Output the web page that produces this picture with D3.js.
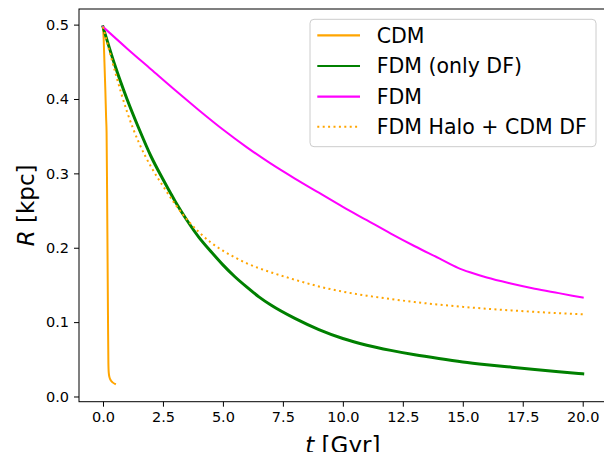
<!DOCTYPE html>
<html>
<head>
<meta charset="utf-8">
<script src="https://cdn.jsdelivr.net/npm/d3@7"></script>
<style>
  html, body { margin: 0; padding: 0; background: #fff; }
  svg { display: block; font-family: "DejaVu Sans", sans-serif; }
</style>
</head>
<body>
<svg id="chart" width="604" height="452"></svg>
<script>
// ---- data (t in Gyr, R in kpc) ----
const seriesNames = ["CDM", "FDM (only DF)", "FDM", "FDM Halo + CDM DF"];

const cdmT = [0, 0.03, 0.06, 0.10, 0.13, 0.15, 0.17, 0.19, 0.21, 0.225, 0.24, 0.27, 0.32, 0.40, 0.50];
const cdmR = [0.497, 0.48, 0.45, 0.41, 0.375, 0.355, 0.28, 0.19, 0.10, 0.045, 0.032, 0.026, 0.022, 0.019, 0.017];

const fdmDfT = [0, 0.5, 1, 1.5, 2, 2.5, 3, 3.5, 4, 4.5, 5, 5.5, 6, 6.5, 7, 8, 9, 10, 11, 12, 13, 14, 15, 16, 17, 18, 19, 20];
const fdmDfR = [0.497, 0.445, 0.400, 0.360, 0.323, 0.292, 0.263, 0.237, 0.214, 0.195, 0.177, 0.161, 0.147, 0.134, 0.123,
                0.105, 0.090, 0.078, 0.069, 0.062, 0.056, 0.051, 0.0465, 0.0428, 0.0395, 0.0363, 0.0333, 0.0305];

const fdmT = [0, 1, 2, 3, 4, 5, 6, 7, 8, 9, 10, 11, 12, 13, 14, 14.8, 15.3, 16, 17, 18, 19, 20];
const fdmR = [0.497, 0.468, 0.440, 0.412, 0.385, 0.359, 0.335, 0.313, 0.293, 0.274, 0.255, 0.237, 0.219, 0.202, 0.186,
              0.173, 0.167, 0.160, 0.152, 0.145, 0.139, 0.133];

const haloT = [0, 0.5, 1, 1.5, 2, 2.5, 3, 3.5, 4, 4.5, 5, 5.5, 6, 7, 8, 9, 10, 11, 12, 13, 14, 15, 16, 17, 18, 19, 20];
const haloR = [0.497, 0.437, 0.383, 0.341, 0.309, 0.283, 0.259, 0.238, 0.221, 0.207, 0.196, 0.187, 0.179, 0.167, 0.157,
               0.148, 0.141, 0.1355, 0.131, 0.127, 0.1235, 0.1205, 0.118, 0.1158, 0.1138, 0.112, 0.1106];

const xTicks = [0, 2.5, 5, 7.5, 10, 12.5, 15, 17.5, 20];
const yTicks = [0.0, 0.1, 0.2, 0.3, 0.4, 0.5];

// ---- layout ----
const svg = d3.select("#chart");
const L = 79, T = 9, R = 606.7, B = 401.7;

const x = d3.scaleLinear().domain([-1, 21]).range([L, R]);
const y = d3.scaleLinear().domain([-0.007, 0.521]).range([B, T]);

const zip = (ts, rs) => ts.map((t, i) => [t, rs[i]]);
const line = d3.line().x(d => x(d[0])).y(d => y(d[1])).curve(d3.curveMonotoneX);

const series = [
  { name: seriesNames[0], data: zip(cdmT, cdmR), color: "#FFA500", width: 2, dash: null },
  { name: seriesNames[1], data: zip(fdmDfT, fdmDfR), color: "#008000", width: 3, dash: null },
  { name: seriesNames[2], data: zip(fdmT, fdmR), color: "#FF00FF", width: 2, dash: null },
  { name: seriesNames[3], data: zip(haloT, haloR), color: "#FFA500", width: 2, dash: "2,3.4" }
];

svg.append("clipPath").attr("id", "clip")
  .append("rect").attr("x", L).attr("y", T).attr("width", R - L).attr("height", B - T);

const g = svg.append("g").attr("clip-path", "url(#clip)");
series.forEach(s => {
  g.append("path")
    .datum(s.data)
    .attr("fill", "none")
    .attr("stroke", s.color)
    .attr("stroke-width", s.width)
    .attr("stroke-dasharray", s.dash)
    .attr("stroke-linejoin", "round")
    .attr("stroke-linecap", s.dash ? "butt" : "square")
    .attr("d", line);
});

// axes
const xAxis = d3.axisBottom(x).tickValues(xTicks).tickFormat(d3.format(".1f")).tickSizeOuter(0).tickSize(5).tickPadding(5);
const yAxis = d3.axisLeft(y).tickValues(yTicks).tickFormat(d3.format(".1f")).tickSizeOuter(0).tickSize(5).tickPadding(5);

const gx = svg.append("g").attr("transform", `translate(0,${B})`).call(xAxis);
const gy = svg.append("g").attr("transform", `translate(${L},0)`).call(yAxis);
[gx, gy].forEach(a => {
  a.selectAll("text").attr("font-size", 14.5).attr("font-family", "DejaVu Sans").attr("fill", "#000");
  a.selectAll("line").attr("stroke", "#000").attr("stroke-width", 1);
  a.select(".domain").remove();
});

// spines
svg.append("rect").attr("x", L).attr("y", T).attr("width", R - L).attr("height", B - T)
  .attr("fill", "none").attr("stroke", "#000").attr("stroke-width", 1);

// axis labels
const yl = svg.append("text")
  .attr("transform", `translate(34,${(T + B) / 2}) rotate(-90)`)
  .attr("text-anchor", "middle").attr("font-size", 23).attr("fill", "#000");
yl.append("tspan").attr("font-style", "italic").text("R");
yl.append("tspan").text(" [kpc]");

const xl = svg.append("text")
  .attr("x", (L + R) / 2).attr("y", 453)
  .attr("text-anchor", "middle").attr("font-size", 23).attr("fill", "#000");
xl.append("tspan").attr("font-style", "italic").text("t");
xl.append("tspan").text(" [Gyr]");

// legend
const lg = svg.append("g");
lg.append("rect").attr("x", 310).attr("y", 19.3).attr("width", 286).attr("height", 127.4)
  .attr("rx", 4).attr("fill", "#fff").attr("fill-opacity", 0.8)
  .attr("stroke", "#cccccc").attr("stroke-width", 1);
const rowY = [35.3, 66, 96.7, 126.7];
series.forEach((s, i) => {
  lg.append("line").attr("x1", 317.3).attr("x2", 360).attr("y1", rowY[i]).attr("y2", rowY[i])
    .attr("stroke", s.color).attr("stroke-width", s.dash ? 2 : 2.2).attr("stroke-dasharray", s.dash);
  lg.append("text").attr("x", 376.7).attr("y", rowY[i] + 7.4)
    .attr("font-size", 20.5).attr("fill", "#000").text(s.name);
});
</script>
</body>
</html>
